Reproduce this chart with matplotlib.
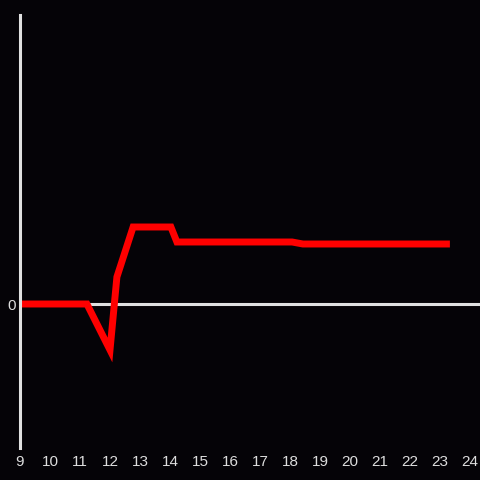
import matplotlib
matplotlib.use("Agg")
import matplotlib.pyplot as plt

x_vals = [9.0, 11.23, 12.0, 12.23, 12.77, 14.03, 14.23, 18.07, 18.43, 23.33]
y_vals = [0, 0, -46, 27, 77, 77, 62, 62, 60, 60]
x_ticks = list(range(9, 25))
y_ticks = [0]

bg = "#050307"
fig = plt.figure(figsize=(4.8, 4.8), dpi=100, facecolor=bg)
ax = fig.add_axes([20/480, 1 - 448/480, 460/480, (448 - 15)/480])
ax.set_facecolor(bg)
ax.set_xlim(9, 9 + 460/30)
ax.set_ylim(-144, 289)

ax.axhline(0, color="#e0e0e0", lw=2.2, zorder=1)
ax.plot(x_vals, y_vals, color="#ff0000", lw=5, solid_joinstyle="miter", solid_capstyle="butt", zorder=2)

for s in ["top", "right", "bottom"]:
    ax.spines[s].set_visible(False)
ax.spines["left"].set_color("#e0e0e0")
ax.spines["left"].set_linewidth(2.2)

ax.set_xticks(x_ticks)
ax.set_xticklabels([str(t) for t in x_ticks])
ax.set_yticks(y_ticks)
ax.set_yticklabels(["0"])
ax.tick_params(axis="both", length=0, colors="#dddddd", labelsize=11)
ax.tick_params(axis="x", pad=5)
ax.tick_params(axis="y", pad=3)
for lab in ax.get_xticklabels() + ax.get_yticklabels():
    lab.set_fontfamily("Liberation Sans")

fig.savefig("out.png", dpi=100, facecolor=bg)
